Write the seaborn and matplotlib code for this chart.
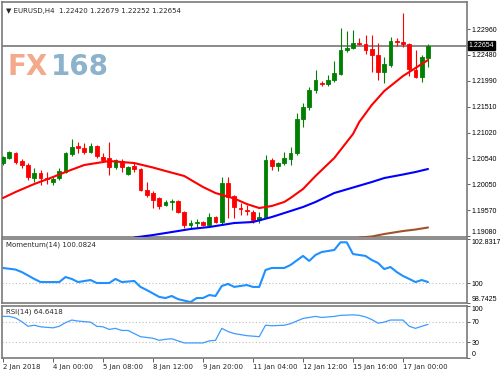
import numpy as np
import pandas as pd
import matplotlib
matplotlib.use("Agg")
import matplotlib.pyplot as plt
import seaborn as sns

# =============================================================================
# Datos (EURUSD H4)
# =============================================================================
opens = [1.20452, 1.20546, 1.20640, 1.20490, 1.20415, 1.20171, 1.20265, 1.20171, 1.20096, 1.20171,
         1.20284, 1.20621, 1.20771, 1.20734, 1.20659, 1.20771, 1.20565, 1.20546, 1.20377, 1.20490,
         1.20246, 1.20396, 1.20340, 1.19946, 1.19890, 1.19797, 1.19665, 1.19722, 1.19740, 1.19534,
         1.19291, 1.19328, 1.19347, 1.19291, 1.19440, 1.19347, 1.20078, 1.19834, 1.19609, 1.19572,
         1.19534, 1.19384, 1.19440, 1.20509, 1.20396, 1.20452, 1.20527, 1.20640, 1.21277, 1.21502,
         1.21820, 1.21952, 1.21933, 1.22008, 1.22120, 1.22570, 1.22608, 1.22701, 1.22682, 1.22589,
         1.22476, 1.22158, 1.22289, 1.22739, 1.22720, 1.22682, 1.22195, 1.22064, 1.22420]
highs = [1.20584, 1.20677, 1.20659, 1.20527, 1.20452, 1.20359, 1.20321, 1.20284, 1.20190, 1.20359,
         1.20659, 1.20902, 1.20846, 1.20827, 1.20827, 1.20790, 1.20640, 1.20846, 1.20527, 1.20527,
         1.20396, 1.20452, 1.20359, 1.20096, 1.19928, 1.19815, 1.19759, 1.19778, 1.19759, 1.19553,
         1.19384, 1.19403, 1.19366, 1.19515, 1.19459, 1.20190, 1.20190, 1.19853, 1.19703, 1.19665,
         1.19572, 1.19534, 1.20602, 1.20546, 1.20471, 1.20659, 1.20752, 1.21389, 1.21577, 1.21877,
         1.22195, 1.21989, 1.22102, 1.22364, 1.22982, 1.22926, 1.22945, 1.22795, 1.22851, 1.22851,
         1.22701, 1.22439, 1.22814, 1.22795, 1.23263, 1.22701, 1.22570, 1.22476, 1.22679]
lows = [1.20415, 1.20527, 1.20434, 1.20359, 1.20134, 1.20096, 1.20040, 1.20059, 1.20040, 1.20134,
        1.20265, 1.20584, 1.20640, 1.20621, 1.20640, 1.20546, 1.20471, 1.20228, 1.20340, 1.20284,
        1.20228, 1.20284, 1.19928, 1.19815, 1.19609, 1.19590, 1.19647, 1.19572, 1.19515, 1.19234,
        1.19216, 1.19253, 1.19272, 1.19253, 1.19328, 1.19291, 1.19422, 1.19422, 1.19478, 1.19478,
        1.19328, 1.19328, 1.19422, 1.20321, 1.20303, 1.20415, 1.20415, 1.20602, 1.21127, 1.21446,
        1.21764, 1.21895, 1.21895, 1.21970, 1.22102, 1.22533, 1.22589, 1.22664, 1.22495, 1.22158,
        1.22008, 1.21952, 1.22251, 1.22645, 1.22626, 1.22083, 1.22045, 1.21970, 1.22252]
closes = [1.20565, 1.20659, 1.20471, 1.20415, 1.20190, 1.20265, 1.20171, 1.20153, 1.20153, 1.20303,
          1.20640, 1.20752, 1.20734, 1.20659, 1.20771, 1.20584, 1.20509, 1.20377, 1.20509, 1.20377,
          1.20377, 1.20340, 1.19946, 1.19853, 1.19759, 1.19647, 1.19722, 1.19740, 1.19534, 1.19291,
          1.19328, 1.19347, 1.19291, 1.19440, 1.19347, 1.20078, 1.19815, 1.19628, 1.19590, 1.19553,
          1.19384, 1.19440, 1.20509, 1.20396, 1.20452, 1.20546, 1.20640, 1.21277, 1.21502, 1.21820,
          1.22008, 1.21933, 1.22008, 1.22139, 1.22570, 1.22608, 1.22701, 1.22682, 1.22570, 1.22476,
          1.22158, 1.22308, 1.22739, 1.22720, 1.22682, 1.22214, 1.22064, 1.22439, 1.22654]

# medias móviles
red_idx = [0, 2, 5, 8, 10, 13, 16, 17, 21, 24, 26, 29, 32, 34, 37, 39, 41, 43, 45, 46,
           48, 50, 53, 56, 57, 59, 61, 62, 64, 66, 68]
red_ma = [1.19797, 1.19909, 1.20059, 1.20190, 1.20284, 1.20415, 1.20471, 1.20490, 1.20452, 1.20368,
          1.20303, 1.20209, 1.20003, 1.19890, 1.19787, 1.19684, 1.19609, 1.19647, 1.19722, 1.19797,
          1.19965, 1.20209, 1.20546, 1.20996, 1.21221, 1.21539, 1.21802, 1.21895, 1.22083, 1.22233,
          1.22383]
blue_idx = [21, 24, 27, 30, 33, 37, 40, 43, 45, 48, 50, 53, 56, 59, 61, 64, 66, 68]
blue_ma = [1.19056, 1.19103, 1.19159, 1.19216, 1.19253, 1.19328, 1.19347, 1.19440, 1.19515, 1.19628,
           1.19722, 1.19890, 1.19993, 1.20096, 1.20171, 1.20237, 1.20284, 1.20340]
brown_idx = [57, 59, 61, 64, 66, 68]
brown_ma = [1.19056, 1.19075, 1.19122, 1.19178, 1.19206, 1.19244]

# Momentum(14)
mom_idx = [0, 2, 3, 5, 6, 8, 9, 10, 11, 12, 14, 15, 17, 18, 19, 21, 22, 23, 25, 26,
           27, 28, 30, 31, 32, 33, 34, 35, 36, 37, 38, 39, 40, 41, 42, 43, 45, 46, 48, 49,
           50, 51, 53, 54, 55, 56, 58, 59, 60, 61, 62, 63, 64, 65, 66, 67, 68]
mom_val = [100.98, 100.88, 100.72, 100.28, 100.08, 100.08, 100.08, 100.40, 100.28, 100.08,
           100.21, 100.02, 100.02, 100.28, 100.08, 100.15, 99.77, 99.57, 99.13, 99.06,
           99.19, 98.99, 98.80, 99.06, 99.06, 99.25, 99.19, 99.83, 99.96, 99.77,
           99.83, 99.89, 99.77, 99.77, 100.85, 100.98, 100.98, 101.17, 101.75, 101.43,
           101.81, 102.00, 102.13, 102.62, 102.62, 101.87, 101.75, 101.49, 101.30, 100.91,
           101.04, 100.72, 100.47, 100.28, 100.08, 100.21, 100.0824]

# RSI(14)
rsi_idx = [0, 1, 2, 3, 4, 5, 6, 8, 9, 10, 11, 12, 13, 14, 15, 16, 17, 18, 19, 20,
           21, 22, 24, 25, 26, 27, 28, 29, 30, 32, 33, 34, 35, 36, 37, 38, 39, 40, 41, 42,
           43, 45, 46, 47, 48, 50, 51, 53, 54, 56, 57, 58, 59, 60, 61, 62, 64, 65, 66, 67, 68]
rsi_val = [80, 80, 77, 70, 61, 63, 60, 58, 61, 68, 73, 71, 70, 69, 61, 60, 55, 57, 53, 53,
           47, 41, 38, 34, 36, 37, 33, 29, 29, 29, 33, 34, 57, 51, 47, 45, 43, 42, 41, 63,
           62, 63, 66, 71, 76, 80, 78, 80, 82, 83, 82, 79, 74, 67, 69, 73, 73, 61, 57, 61, 64.64]

price_ticks = [1.19080, 1.19570, 1.20050, 1.20540, 1.21020, 1.21510, 1.21990, 1.22480, 1.22960]
price_labels = ["1.19080", "1.19570", "1.20050", "1.20540", "1.21020",
                "1.21510", "1.21990", "1.22480", "1.22960"]
time_idx = [0, 8, 16, 24, 32, 40, 48, 56, 64]
time_labels = ["2 Jan 2018", "4 Jan 00:00", "5 Jan 08:00", "8 Jan 12:00", "9 Jan 20:00",
               "11 Jan 04:00", "12 Jan 12:00", "15 Jan 16:00", "17 Jan 00:00"]
mom_ticks = [98.7425, 100, 102.8317]
mom_labels = ["98.7425", "100", "102.8317"]
rsi_ticks = [0, 30, 70, 100]
rsi_labels = ["0", "30", "70", "100"]

title = "\u25bc EURUSD,H4  1.22420 1.22679 1.22252 1.22654"

# =============================================================================
# Estilo
# =============================================================================
sns.set_theme(style="white")
plt.rcParams["font.family"] = ["DejaVu Sans"]

GREEN = "#008000"
RED = "#ff0000"
FRAME = "#7a7a7a"
FS = 5
TICK_FONT = "Liberation Sans"
TFS = 5.0

fig = plt.figure(figsize=(5, 3.75), dpi=100)
fig.patch.set_facecolor("white")
ax = fig.add_axes([0.004, 0.368, 0.93, 0.6267])
ax_mom = fig.add_axes([0.004, 0.192, 0.93, 0.1707])
ax_rsi = fig.add_axes([0.004, 0.0453, 0.93, 0.1387])

XLIM = (-0.16, 74.24)

for a in (ax, ax_mom, ax_rsi):
    a.set_facecolor("white")
    a.set_xlim(*XLIM)
    for s in a.spines.values():
        s.set_color(FRAME)
        s.set_linewidth(1.2)
    a.yaxis.tick_right()
    a.tick_params(axis="y", direction="out", length=2.5, width=0.6, color="#444444",
                  pad=0.6, labelcolor="black", right=True, left=False)
    a.grid(False)

# =============================================================================
# Velas
# =============================================================================
o = np.array(opens)
h = np.array(highs)
l = np.array(lows)
c = np.array(closes)
x = np.arange(len(c))
cols = np.where(c >= o, GREEN, RED)

ax.vlines(x, l, h, colors=cols, linewidth=0.8, zorder=2)
ax.bar(x, np.abs(c - o), bottom=np.minimum(o, c), width=0.62, color=cols,
       edgecolor=cols, linewidth=0.6, zorder=3)

ma = pd.concat([
    pd.DataFrame({"idx": red_idx, "val": red_ma, "ma": "red"}),
    pd.DataFrame({"idx": blue_idx, "val": blue_ma, "ma": "blue"}),
    pd.DataFrame({"idx": brown_idx, "val": brown_ma, "ma": "brown"}),
])
for name, color in [("red", "#ff0000"), ("blue", "#0000ff"), ("brown", "#a0522d")]:
    d = ma[ma["ma"] == name]
    sns.lineplot(data=d, x="idx", y="val", ax=ax, color=color, linewidth=1.5,
                 estimator=None, sort=False, zorder=4)

ax.axhline(c[-1], color="#808080", linewidth=1.3, zorder=1.5)
ax.set_ylim(1.19066, 1.23470)
ax.set_yticks(price_ticks)
ax.set_yticklabels(price_labels, fontsize=TFS, family=TICK_FONT)
ax.get_yticklabels()[0].set_va("bottom")
ax.set_xticks([])
ax.set_xlabel("")
ax.set_ylabel("")
ax.text(1.003, c[-1], f"{c[-1]:.5f}", transform=ax.get_yaxis_transform(),
        fontsize=TFS, family=TICK_FONT, color="white", va="center", ha="left", zorder=10,
        bbox=dict(boxstyle="square,pad=0.12", facecolor="black", edgecolor="black"))
ax.text(0.008, 0.975, title, transform=ax.transAxes, fontsize=FS, va="top", ha="left")

# marca de agua
fig.text(0.016, 1 - 75 / 375, "FX", fontsize=20, fontweight="bold", color="#f4a98a",
         ha="left", va="baseline")
fig.text(0.102, 1 - 75 / 375, "168", fontsize=20, fontweight="bold", color="#8cb2cc",
         ha="left", va="baseline")

# =============================================================================
# Momentum
# =============================================================================
mom = pd.DataFrame({"idx": mom_idx, "val": mom_val})
sns.lineplot(data=mom, x="idx", y="val", ax=ax_mom, color="#1e90ff", linewidth=1.5,
             estimator=None, sort=False)
ax_mom.axhline(100, color="#bdbdbd", linewidth=0.8, linestyle=(0, (1, 2)), zorder=0)
ax_mom.set_ylim(98.7425, 102.8317)
ax_mom.set_yticks(mom_ticks)
ax_mom.set_yticklabels(mom_labels, fontsize=TFS, family=TICK_FONT)
labs = ax_mom.get_yticklabels()
labs[0].set_va("bottom")
labs[-1].set_va("top")
ax_mom.set_xticks([])
ax_mom.set_xlabel("")
ax_mom.set_ylabel("")
ax_mom.text(0.008, 0.96, "Momentum(14) 100.0824", transform=ax_mom.transAxes,
            fontsize=FS, va="top", ha="left")

# =============================================================================
# RSI
# =============================================================================
rsi = pd.DataFrame({"idx": rsi_idx, "val": rsi_val})
sns.lineplot(data=rsi, x="idx", y="val", ax=ax_rsi, color="#3d9cff", linewidth=0.9,
             estimator=None, sort=False)
for lvl in (70, 30):
    ax_rsi.axhline(lvl, color="#bdbdbd", linewidth=0.8, linestyle=(0, (1, 2)), zorder=0)
ax_rsi.set_ylim(0, 100)
ax_rsi.set_yticks(rsi_ticks)
ax_rsi.set_yticklabels(rsi_labels, fontsize=TFS, family=TICK_FONT)
labs = ax_rsi.get_yticklabels()
labs[0].set_va("bottom")
labs[-1].set_va("top")
ax_rsi.set_xticks(time_idx)
ax_rsi.set_xticklabels(time_labels, ha="left", fontsize=FS)
ax_rsi.tick_params(axis="x", direction="out", length=3, width=0.6, color="#444444",
                   pad=1, bottom=True)
ax_rsi.set_xlabel("")
ax_rsi.set_ylabel("")
ax_rsi.text(0.008, 0.96, "RSI(14) 64.6418", transform=ax_rsi.transAxes,
            fontsize=FS, va="top", ha="left")

fig.savefig("out.png", dpi=100)
plt.close(fig)
